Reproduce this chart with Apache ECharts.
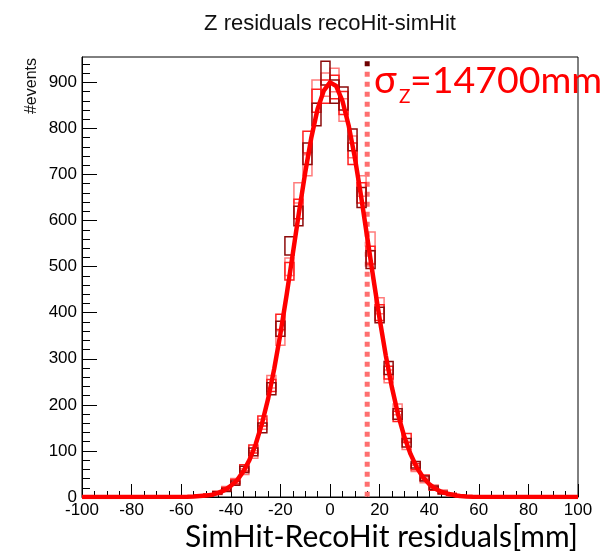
<!DOCTYPE html>
<html>
<head>
<meta charset="utf-8">
<script src="https://cdn.jsdelivr.net/npm/echarts@6/dist/echarts.min.js"></script>
<style>
  html, body { margin: 0; padding: 0; background: #ffffff; }
  #chart { width: 607px; height: 552px; }
</style>
</head>
<body>
<div id="chart"></div>
<script>
// Histogram binning: 55 bins over [-100, 100] -> width 200/55
const binWidth = 200 / 55;
const binCenters = [-56.36, -52.73, -49.09, -45.45, -41.82, -38.18, -34.55, -30.91, -27.27, -23.64,
                    -20.00, -16.36, -12.73, -9.09, -5.45, -1.82, 1.82, 5.45, 9.09, 12.73,
                    16.36, 20.00, 23.64, 27.27, 30.91, 34.55, 38.18, 41.82, 45.45, 49.09,
                    52.73, 56.36];

// Entries per bin for the three overlaid residual histograms
const countsDark = [0, 2, 3, 9, 15, 30, 60, 98, 150, 235,
                    365, 545, 610, 745, 830, 920, 880, 865, 775, 650,
                    515, 395, 280, 180, 118, 70, 40, 20, 10, 5,
                    2, 1];
const countsPink = [1, 3, 5, 8, 19, 35, 55, 92, 158, 250,
                    345, 500, 660, 720, 880, 895, 905, 840, 760, 675,
                    555, 415, 262, 190, 112, 62, 36, 22, 12, 4,
                    1, 0];
const countsRed  = [0, 1, 4, 10, 17, 33, 63, 104, 165, 242,
                    380, 490, 625, 770, 860, 880, 890, 855, 745, 660,
                    525, 400, 270, 175, 128, 66, 42, 18, 9, 6,
                    2, 0];

// Gaussian fit curve, sampled
const fitX = [-100, -57.5, -55, -52.5, -50, -47.5, -45, -42.5, -40, -37.5,
              -35, -32.5, -30, -27.5, -25, -22.5, -20, -17.5, -15, -12.5,
              -10, -7.5, -5, -2.5, 0, 2.5, 5, 7.5, 10, 12.5,
              15, 17.5, 20, 22.5, 25, 27.5, 30, 32.5, 35, 37.5,
              40, 42.5, 45, 47.5, 50, 52.5, 55, 57.5, 100];
const fitY = [0, 0.5, 1, 2, 3, 5, 9, 15, 24, 36,
              55, 80, 114, 158, 212, 278, 354, 438, 528, 618,
              704, 781, 842, 882, 900, 892, 860, 807, 737, 654,
              564, 474, 387, 307, 237, 178, 130, 93, 64, 43,
              28, 18, 11, 7, 4, 2, 1, 0.5, 0];

// Sigma marker position
const sigmaX = 15;
const sigmaTop = 923;
const sigmaCapTop = 946;
const sigmaCapBottom = 935;

// Axis ticks
const xTicks = [-100, -80, -60, -40, -20, 0, 20, 40, 60, 80, 100];
const yTicks = [0, 100, 200, 300, 400, 500, 600, 700, 800, 900];
const yMax = 955;
const yMinorStep = 20;

const yMinor = [];
for (let v = 0; v <= 940; v += yMinorStep) {
  if (v % 100 !== 0) yMinor.push(v);
}

const ERR_SCALE = 0.85; // half-height of each bin box, in units of sqrt(N)

function boxSeries(name, counts, color, z) {
  return {
    type: 'custom',
    name: name,
    z: z,
    xAxisIndex: 0,
    yAxisIndex: 0,
    data: binCenters.map((c, i) => [c, counts[i]]),
    encode: { x: 0, y: 1 },
    renderItem: function (params, api) {
      const c = api.value(0);
      const n = api.value(1);
      const err = ERR_SCALE * Math.sqrt(n);
      const p0 = api.coord([c - binWidth / 2, n + err]);
      const p1 = api.coord([c + binWidth / 2, n - err]);
      return {
        type: 'rect',
        shape: { x: p0[0], y: p0[1], width: p1[0] - p0[0], height: p1[1] - p0[1] },
        style: { fill: 'none', stroke: color, lineWidth: 1.5 }
      };
    }
  };
}

const tickFont = { fontFamily: 'Liberation Sans', fontSize: 17, color: '#000' };

const chart = echarts.init(document.getElementById('chart'), null, { renderer: 'canvas' });

chart.setOption({
  animation: false,
  backgroundColor: '#ffffff',
  grid: {
    left: 82, right: 29, top: 57, bottom: 55,
    show: true, borderColor: '#000', borderWidth: 1, backgroundColor: 'transparent'
  },
  xAxis: {
    type: 'value',
    min: -100, max: 100, interval: 20,
    axisLine: { show: true, onZero: false, lineStyle: { color: '#000', width: 1 } },
    axisTick: { show: true, inside: true, length: 13, lineStyle: { color: '#000', width: 1 } },
    minorTick: { show: true, splitNumber: 4, length: 6, lineStyle: { color: '#000', width: 1 } },
    splitLine: { show: false },
    axisLabel: Object.assign({ margin: 5, customValues: xTicks }, tickFont)
  },
  yAxis: [
    {
      type: 'value',
      min: 0, max: yMax,
      position: 'left',
      axisLine: { show: true, onZero: false, lineStyle: { color: '#000', width: 1 } },
      axisTick: { show: true, inside: true, length: 15, customValues: yTicks, lineStyle: { color: '#000', width: 1 } },
      splitLine: { show: false },
      axisLabel: Object.assign({ margin: 5, customValues: yTicks }, tickFont)
    },
    {
      type: 'value',
      min: 0, max: yMax,
      position: 'left',
      axisLine: { show: false, onZero: false },
      axisTick: { show: true, inside: true, length: 8, customValues: yMinor, lineStyle: { color: '#000', width: 1 } },
      splitLine: { show: false },
      axisLabel: { show: false }
    }
  ],
  series: [
    {
      type: 'line', name: 'sigma-cap', z: 2, silent: true,
      showSymbol: false, symbol: 'none',
      data: [[sigmaX, sigmaCapTop], [sigmaX, sigmaCapBottom]],
      lineStyle: { color: '#6e0000', width: 5, cap: 'butt' }
    },
    {
      type: 'line', name: 'sigma', z: 2, silent: true,
      showSymbol: false, symbol: 'none',
      data: [[sigmaX, sigmaTop], [sigmaX, 0]],
      lineStyle: { color: '#ff6f6f', width: 5, type: [5, 5], cap: 'butt' }
    },
    boxSeries('pink', countsPink, '#ff7c7c', 3),
    boxSeries('red', countsRed, '#ff1f1f', 4),
    boxSeries('dark', countsDark, '#8c0b0b', 5),
    {
      type: 'line', name: 'fit', z: 6, silent: true,
      showSymbol: false, symbol: 'none',
      data: fitX.map((x, i) => [x, fitY[i]]),
      lineStyle: { color: '#ff0000', width: 4.5, join: 'round' }
    }
  ],
  graphic: [
    {
      type: 'text', x: 330, y: 24, silent: true,
      style: {
        text: 'Z residuals recoHit-simHit', fill: '#111',
        font: '22px "Liberation Sans"', align: 'center', verticalAlign: 'middle',
        textAlign: 'center', textVerticalAlign: 'middle'
      }
    },
    {
      type: 'text', x: 32, y: 58, rotation: Math.PI / 2, silent: true,
      style: {
        text: '#events', fill: '#111',
        font: '16px "Liberation Sans"', align: 'right', verticalAlign: 'middle',
        textAlign: 'right', textVerticalAlign: 'middle'
      }
    },
    {
      type: 'text', x: 578, y: 537, silent: true,
      style: {
        text: 'SimHit-RecoHit residuals[mm]', fill: '#000',
        font: '30px Lato', align: 'right', verticalAlign: 'middle',
        textAlign: 'right', textVerticalAlign: 'middle'
      }
    },
    {
      type: 'text', x: 374, y: 81, silent: true,
      style: {
        text: 'σ', fill: '#ff0000', font: '38px Lato',
        align: 'left', verticalAlign: 'middle', textAlign: 'left', textVerticalAlign: 'middle'
      }
    },
    {
      type: 'text', x: 399, y: 97, silent: true,
      style: {
        text: 'Z', fill: '#ff0000', font: '19px Lato',
        align: 'left', verticalAlign: 'middle', textAlign: 'left', textVerticalAlign: 'middle'
      }
    },
    {
      type: 'text', x: 410, y: 81, silent: true,
      style: {
        text: '=14700mm', fill: '#ff0000', font: '37.5px Lato',
        align: 'left', verticalAlign: 'middle', textAlign: 'left', textVerticalAlign: 'middle'
      }
    }
  ]
});
</script>
</body>
</html>
